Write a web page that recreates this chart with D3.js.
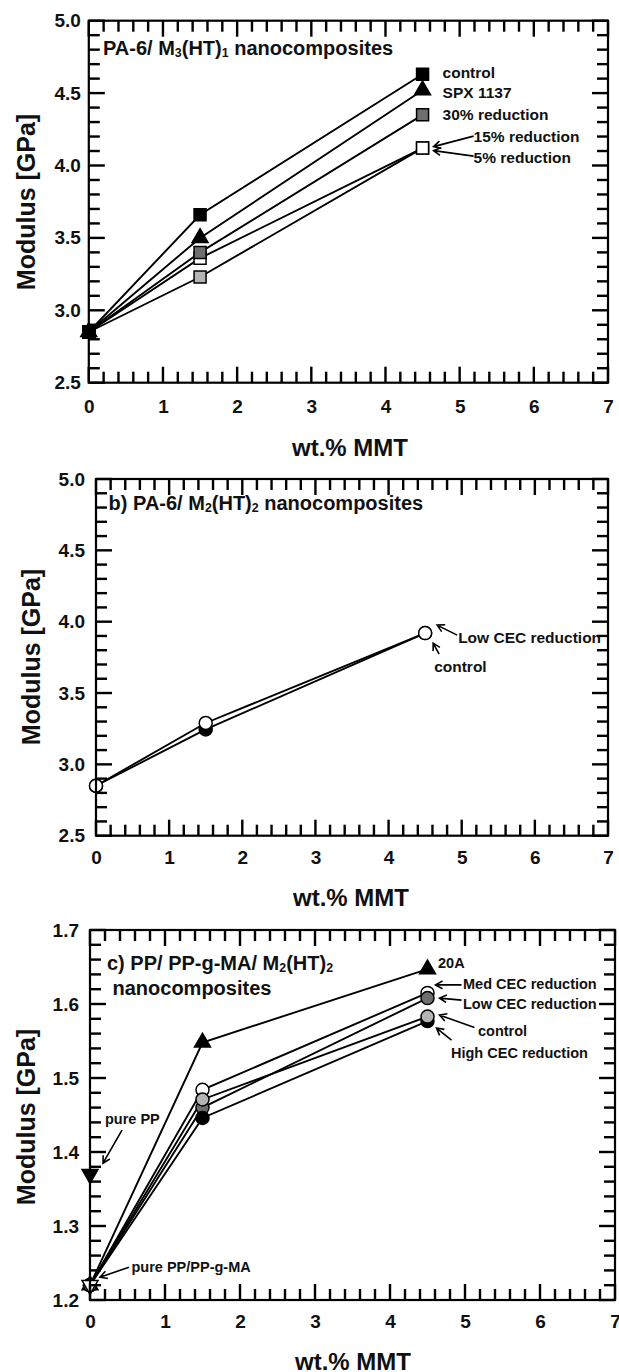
<!DOCTYPE html>
<html><head><meta charset="utf-8">
<script src="https://cdn.jsdelivr.net/npm/d3@7"></script>
<style>body{margin:0;background:#fff}svg{display:block}</style>
</head><body><svg id="chart" width="619" height="1372"></svg>
<script>
// ---------- data ----------
const xTickLabels = ["0","1","2","3","4","5","6","7"];
const yTickLabelsPA = ["2.5","3.0","3.5","4.0","4.5","5.0"];
const yTickLabelsPP = ["1.2","1.3","1.4","1.5","1.6","1.7"];
const loadings = [0, 1.5, 4.5];
// panel a : PA-6 / M3(HT)1
const a_control = [2.85, 3.66, 4.63];
const a_spx1137 = [2.85, 3.50, 4.52];
const a_red30   = [2.85, 3.40, 4.35];
const a_red15   = [2.85, 3.36, 4.12];
const a_red5    = [2.85, 3.23, 4.12];
// panel b : PA-6 / M2(HT)2
const b_control = [2.85, 3.245, 3.92];
const b_lowCEC  = [2.85, 3.29, 3.92];
// panel c : PP / PP-g-MA / M2(HT)2
const c_20A     = [1.22, 1.548, 1.647];
const c_medCEC  = [1.22, 1.484, 1.615];
const c_lowCEC  = [1.22, 1.460, 1.608];
const c_highCEC = [1.22, 1.446, 1.577];
const c_control = [1.22, 1.471, 1.583];
const c_purePP      = [1.37];
const c_purePPgMA   = [1.22];

// ---------- drawing ----------
const svg = d3.select("#chart");
const FONT = "'Liberation Sans', Arial, Helvetica, sans-serif";
const tickLayer = [];

function makePanel(cfg) {
  const g = svg.append("g");
  const x = d3.scaleLinear().domain([0, 7]).range([cfg.left, cfg.right]);
  const y = d3.scaleLinear().domain(cfg.ydom).range([cfg.bottom, cfg.top]);
  const nY = Math.round((cfg.ydom[1] - cfg.ydom[0]) / cfg.yMinor);
  const yAll = d3.range(0, nY + 1).map(i => cfg.ydom[0] + i * cfg.yMinor);
  const ratio = Math.round(cfg.yMajor / cfg.yMinor);
  const yMaj = yAll.filter((v, i) => i % ratio === 0);
  tickLayer.push({ cfg: cfg, sx: x, sy: y, yAll: yAll, ratio: ratio });
  const style = sel => {
    sel.select(".domain").remove();
    sel.selectAll("line").remove();
    sel.selectAll("text").attr("font-family", FONT).attr("font-weight", "bold")
      .attr("font-size", 19).attr("fill", "#111");
  };
  g.append("g").attr("transform", `translate(0,${cfg.bottom})`)
    .call(d3.axisBottom(x).tickValues(d3.range(0, 8)).tickSize(0).tickPadding(cfg.xPad)
      .tickFormat((d, i) => xTickLabels[i])).call(style);
  g.append("g").attr("transform", `translate(${cfg.left},0)`)
    .call(d3.axisLeft(y).tickValues(yMaj).tickSize(0).tickPadding(cfg.yPad)
      .tickFormat((d, i) => cfg.yLabels[i])).call(style);
  g.append("text").attr("x", cfg.xTitle[0]).attr("y", cfg.xTitle[1])
    .attr("text-anchor", "middle").attr("dominant-baseline", "central")
    .attr("font-family", FONT).attr("font-weight", "bold").attr("font-size", 24).attr("fill", "#111")
    .text("wt.% MMT");
  g.append("text").attr("transform", `translate(${cfg.yTitle[0]},${cfg.yTitle[1]}) rotate(-90)`)
    .attr("text-anchor", "middle").attr("dominant-baseline", "central")
    .attr("font-family", FONT).attr("font-weight", "bold").attr("font-size", 25).attr("fill", "#111")
    .text("Modulus [GPa]");
  return { g, x, y };
}

// ticks as small filled rectangles placed with the scales
function drawFramesAndTicks() {
  const W = 2.4;
  tickLayer.forEach(t => {
    const cfg = t.cfg, sx = t.sx, sy = t.sy;
    const L = +cfg.left, R = +cfg.right, T = +cfg.top, Bt = +cfg.bottom;
    const xt = d3.range(0, 36).map(i => ({ v: i * 0.2, len: (i % 5 === 0) ? 16 : 11 }));
    const yt = t.yAll.map((v, i) => ({ v: v, len: (i % t.ratio === 0) ? 16 : 11 }));
    const tg = svg.append("g").attr("fill", "#000");
    tg.selectAll("rect.xb").data(xt).join("rect").attr("class", "xb")
      .attr("x", d => sx(d.v) - W / 2).attr("y", d => Bt - d.len).attr("width", W).attr("height", d => d.len);
    tg.selectAll("rect.xt").data(xt).join("rect").attr("class", "xt")
      .attr("x", d => sx(d.v) - W / 2).attr("y", T).attr("width", W).attr("height", d => d.len);
    tg.selectAll("rect.yl").data(yt).join("rect").attr("class", "yl")
      .attr("x", L).attr("y", d => sy(d.v) - W / 2).attr("width", d => d.len).attr("height", W);
    tg.selectAll("rect.yr").data(yt).join("rect").attr("class", "yr")
      .attr("x", d => R - d.len).attr("y", d => sy(d.v) - W / 2).attr("width", d => d.len).attr("height", W);
    svg.append("rect").attr("x", L).attr("y", T)
      .attr("width", R - L).attr("height", Bt - T)
      .attr("fill", "none").attr("stroke", "#000").attr("stroke-width", 2.2);
  });
}

function label(g, x, y, txt, size) {
  g.append("text").attr("x", x).attr("y", y).attr("dominant-baseline", "central")
    .attr("font-family", FONT).attr("font-weight", "bold").attr("font-size", size).attr("fill", "#111")
    .text(txt);
}
function rich(g, x, y, parts, size) {
  const t = g.append("text").attr("x", x).attr("y", y).attr("dominant-baseline", "central")
    .attr("font-family", FONT).attr("font-weight", "bold").attr("font-size", size).attr("fill", "#111");
  let shifted = false;
  parts.forEach(([s, sub]) => {
    const ts = t.append("tspan").text(s);
    if (sub && !shifted) { ts.attr("dy", 5).attr("font-size", size * 0.62); shifted = true; }
    else if (!sub && shifted) { ts.attr("dy", -5); shifted = false; }
    else if (sub) ts.attr("font-size", size * 0.62);
  });
}
function arrow(g, x1, y1, x2, y2) {
  const ang = Math.atan2(y1 - y2, x1 - x2), L = 8, a = 0.5;
  const p = d3.path();
  p.moveTo(x1, y1); p.lineTo(x2, y2);
  p.moveTo(x2 + L * Math.cos(ang + a), y2 + L * Math.sin(ang + a));
  p.lineTo(x2, y2);
  p.lineTo(x2 + L * Math.cos(ang - a), y2 + L * Math.sin(ang - a));
  g.append("path").attr("d", p.toString()).attr("fill", "none")
    .attr("stroke", "#000").attr("stroke-width", 1.6);
}
function drawLines(P, seriesList) {
  const line = d3.line().x((d, i) => P.x(loadings[i])).y(d => P.y(d));
  seriesList.forEach(s => {
    P.g.append("path").datum(s.values).attr("d", line)
      .attr("fill", "none").attr("stroke", "#000").attr("stroke-width", 1.9);
  });
}
function drawMarkers(P, seriesList) {
  seriesList.forEach(s => {
    P.g.append("g").selectAll("path").data(s.values).join("path")
      .attr("d", d3.symbol(s.shape, s.size)())
      .attr("transform", (d, i) => `translate(${P.x(loadings[i])},${P.y(d)})${s.down ? " rotate(180)" : ""}`)
      .attr("fill", s.fill).attr("stroke", "#000").attr("stroke-width", 1.5);
  });
}

// ================= Panel a =================
const A = makePanel({ left: 88.8, right: 608, top: 20.7, bottom: 382.7, ydom: [2.5, 5],
  yMajor: 0.5, yMinor: 0.1, yLabels: yTickLabelsPA, xPad: 17, yPad: 8,
  xTitle: [350, 447], yTitle: [26, 202] });
const aSeries = [
  { values: a_red5,    shape: d3.symbolSquare,   size: 144, fill: "#b4b4b4" },
  { values: a_red15,   shape: d3.symbolSquare,   size: 144, fill: "#ffffff" },
  { values: a_red30,   shape: d3.symbolSquare,   size: 144, fill: "#6e6e6e" },
  { values: a_spx1137, shape: d3.symbolTriangle, size: 110, fill: "#000" },
  { values: a_control, shape: d3.symbolSquare,   size: 144, fill: "#000" }
];
drawLines(A, aSeries);
drawMarkers(A, aSeries);
rich(A.g, 103, 48, [["PA-6/ M", 0], ["3", 1], ["(HT)", 0], ["1", 1], [" nanocomposites", 0]], 20);
{
  const mx = A.x(4.5);
  label(A.g, mx + 20, A.y(a_control[2]) - 2, "control", 15.5);
  label(A.g, mx + 20, A.y(a_spx1137[2]) + 2, "SPX 1137", 15.5);
  label(A.g, mx + 20, A.y(a_red30[2]), "30% reduction", 15.5);
  const my = A.y(a_red15[2]);
  label(A.g, mx + 51, my - 12, "15% reduction", 15.5);
  label(A.g, mx + 51, my + 9, "5% reduction", 15.5);
  arrow(A.g, mx + 51, my - 12, mx + 11, my - 1.5);
  arrow(A.g, mx + 51, my + 8, mx + 11, my + 2.5);
}

// ================= Panel b =================
const B = makePanel({ left: 96, right: 608, top: 479, bottom: 835.7, ydom: [2.5, 5],
  yMajor: 0.5, yMinor: 0.1, yLabels: yTickLabelsPA, xPad: 15, yPad: 11,
  xTitle: [351, 897], yTitle: [31, 657] });
const bSeries = [
  { values: b_control, shape: d3.symbolCircle, size: 133, fill: "#000" },
  { values: b_lowCEC,  shape: d3.symbolCircle, size: 133, fill: "#fff" }
];
drawLines(B, bSeries);
drawMarkers(B, bSeries);
rich(B.g, 108.6, 503, [["b) PA-6/ M", 0], ["2", 1], ["(HT)", 0], ["2", 1], [" nanocomposites", 0]], 20);
{
  const mx = B.x(4.5), my = B.y(b_lowCEC[2]);
  label(B.g, mx + 33, my + 4, "Low CEC reduction", 15.5);
  arrow(B.g, mx + 32, my + 2, mx + 12, my - 8);
  label(B.g, mx + 9, my + 33, "control", 15.5);
  arrow(B.g, mx + 14, my + 21, mx + 8, my + 10);
}

// ================= Panel c =================
const C = makePanel({ left: 90, right: 615, top: 930, bottom: 1300, ydom: [1.2, 1.7],
  yMajor: 0.1, yMinor: 0.02, yLabels: yTickLabelsPP, xPad: 15, yPad: 11,
  xTitle: [353, 1361], yTitle: [26, 1117] });
const cSeries = [
  { values: c_20A,     shape: d3.symbolTriangle, size: 110, fill: "#000" },
  { values: c_medCEC,  shape: d3.symbolCircle,   size: 133, fill: "#fff" },
  { values: c_lowCEC,  shape: d3.symbolCircle,   size: 133, fill: "#6e6e6e" },
  { values: c_highCEC, shape: d3.symbolCircle,   size: 133, fill: "#000" },
  { values: c_control, shape: d3.symbolCircle,   size: 133, fill: "#b4b4b4" }
];
drawLines(C, cSeries);
drawMarkers(C, cSeries);
drawMarkers(C, [
  { values: c_purePP,    shape: d3.symbolTriangle, size: 110, fill: "#000", down: true },
  { values: c_purePPgMA, shape: d3.symbolTriangle, size: 110, fill: "#fff", down: true }
]);
rich(C.g, 107, 963, [["c) PP/ PP-g-MA/ M", 0], ["2", 1], ["(HT)", 0], ["2", 1]], 20);
label(C.g, 112.5, 988, "nanocomposites", 20);
{
  const mx = C.x(4.5);
  label(C.g, mx + 10.5, C.y(c_20A[2]) - 6, "20A", 14.5);
  let my = C.y(c_medCEC[2]);
  label(C.g, mx + 35.5, my - 9, "Med CEC reduction", 14.5);
  arrow(C.g, mx + 34, my - 8, mx + 8, my - 8);
  my = C.y(c_lowCEC[2]);
  label(C.g, mx + 35.5, my + 6, "Low CEC reduction", 14.5);
  arrow(C.g, mx + 34, my + 2, mx + 12, my);
  my = C.y(c_control[2]);
  label(C.g, mx + 50.5, my + 14.5, "control", 14.5);
  arrow(C.g, mx + 47, my + 11, mx + 12, my - 1.5);
  my = C.y(c_highCEC[2]);
  label(C.g, mx + 23.5, my + 32, "High CEC reduction", 14.5);
  arrow(C.g, mx + 24, my + 19, mx + 9, my + 7);
  const px = C.x(0);
  my = C.y(c_purePP[0]);
  label(C.g, px + 15, my - 55, "pure PP", 14.5);
  arrow(C.g, px + 32, my - 44, px + 13, my - 11);
  my = C.y(c_purePPgMA[0]);
  label(C.g, px + 41.5, my - 18, "pure PP/PP-g-MA", 14.5);
  arrow(C.g, px + 39, my - 18, px + 10, my - 8);
}

drawFramesAndTicks();
</script></body></html>
